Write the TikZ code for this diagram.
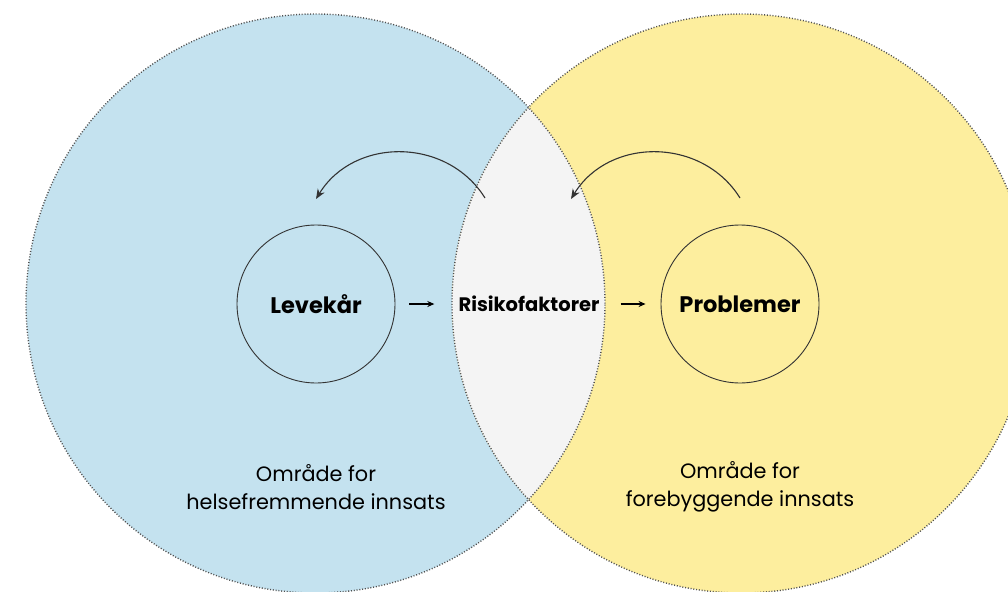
\documentclass[tikz,border=0pt]{standalone}
\usepackage{fontspec}
\setmainfont{Poppins}
\usetikzlibrary{arrows.meta}
\definecolor{cblue}{HTML}{C4E2EF}
\definecolor{cyellow}{HTML}{FDEE9E}
\definecolor{clens}{HTML}{F4F4F4}
\definecolor{cdot}{HTML}{505050}
\definecolor{cline}{HTML}{333333}
\begin{document}
\begin{tikzpicture}[x=1pt,y=-1pt,
  border/.style={draw=cdot, line width=1.4pt, dash pattern=on 1pt off 1.8pt},
  ring/.style={circle, draw=cline, line width=0.9pt, minimum size=158pt, inner sep=0pt, font=\fontsize{22.5}{26}\selectfont\bfseries},
  midtext/.style={inner sep=0pt, font=\fontsize{19.5}{22}\selectfont\bfseries},
  areatext/.style={align=center, font=\fontsize{20.8}{28}\selectfont},
  flow/.style={-{Stealth[length=7pt,width=6pt]}, line width=1.2pt, draw=black},
  loop/.style={-{Stealth[length=10pt,width=8pt]}, line width=1.1pt, draw=cline}]
\useasboundingbox (0,0) rectangle (1008,591);
% circles
\fill[cblue] (315.5,303.5) circle[radius=289.5pt];
\fill[cyellow] (741.5,303.5) circle[radius=289.5pt];
\begin{scope}
  \clip (315.5,303.5) circle[radius=289.5pt];
  \fill[clens] (741.5,303.5) circle[radius=289.5pt];
\end{scope}
\draw[border] (315.5,303.5) circle[radius=289.5pt];
\draw[border] (741.5,303.5) circle[radius=289.5pt];
% nodes
\node[ring] (lev) at (316,304) {Levekår};
\node[ring] (prob) at (740,304) {Problemer};
\node[midtext] (risk) at (529,304) {Risikofaktorer};
% straight arrows
\draw[flow, shorten <=14pt, shorten >=24pt] (lev.east) -- (lev.east -| risk.west);
\draw[flow, shorten <=21pt, shorten >=15pt] (risk.east |- prob.west) -- (prob.west);
% curved arrows
\coordinate (a1s) at (485,198);
\coordinate (a1e) at (316,199);
\coordinate (a2s) at (740,198);
\coordinate (a2e) at (571,199);
\draw[loop] (a1s) .. controls (447,137) and (354,137) .. (a1e);
\draw[loop] (a2s) .. controls (702,137) and (609,137) .. (a2e);
% area labels
\node[areatext] (lblL) at (316,487) {Område for\\helsefremmende innsats};
\node[areatext] (lblR) at (740,487) {Område for\\forebyggende innsats};
\end{tikzpicture}
\end{document}
